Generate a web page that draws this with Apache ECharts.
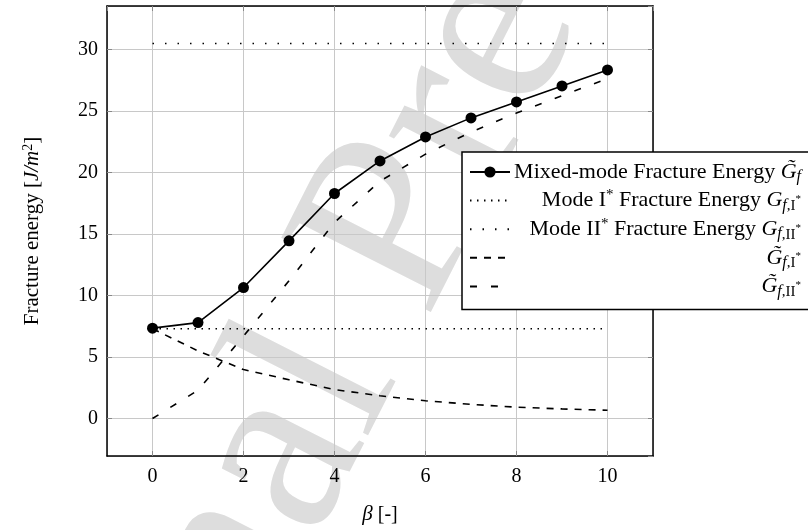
<!DOCTYPE html>
<html><head><meta charset="utf-8">
<script src="https://cdn.jsdelivr.net/npm/echarts@6/dist/echarts.min.js"></script>
<style>html,body{margin:0;padding:0;background:#fff}#c{width:808px;height:530px}</style>
</head><body><div id="c"></div>
<script>
// ---- data ----
const beta    = [0, 1, 2, 3, 4, 5, 6, 7, 8, 9, 10];
const mixed   = [7.35, 7.8, 10.65, 14.45, 18.3, 20.95, 22.9, 24.45, 25.75, 27.05, 28.35];
const modeI   = [7.3, 7.3, 7.3, 7.3, 7.3, 7.3, 7.3, 7.3, 7.3, 7.3, 7.3];
const modeII  = [30.5, 30.5, 30.5, 30.5, 30.5, 30.5, 30.5, 30.5, 30.5, 30.5, 30.5];
const tildeI  = [7.3, 5.5, 3.98, 3.15, 2.35, 1.85, 1.44, 1.15, 0.92, 0.78, 0.67];
const tildeII = [0, 2.3, 6.7, 11.2, 15.95, 19.3, 21.5, 23.3, 24.85, 26.25, 27.65];
const xRange  = [-1, 11];
const yRange  = [-3.05, 33.55];
const seriesIds = ['mixed', 'modeI', 'modeII', 'tildeI', 'tildeII'];
const legendLabels = {
  mixed:   '{t|Mixed-mode Fracture Energy }{m|G\u0303}{sf|f}',
  modeI:   '{t|Mode I}{sup|*}{t| Fracture Energy }{m|G}{sf|f}{sr|,I}{ss|*}',
  modeII:  '{t|Mode II}{sup|*}{t| Fracture Energy }{m|G}{sf|f}{sr|,II}{ss|*}',
  tildeI:  '{m|G\u0303}{sf|f}{sr|,I}{ss|*}',
  tildeII: '{m|G\u0303}{sf|f}{sr|,II}{ss|*}'
};
const yAxisTitle = 'Fracture energy [{i|J/m}{sup|2}]';
const xAxisTitle = '{i|\u03b2} [-]';
const watermark = 'Journal Pre-proof';

const FONT = '"Liberation Serif", "DejaVu Serif", serif';
const pair = arr => beta.map((b, i) => [b, arr[i]]);

const chart = echarts.init(document.getElementById('c'), null, {renderer: 'canvas'});
const common = {type: 'line', xAxisIndex: 0, yAxisIndex: 0, animation: false, silent: true};
const richBase = {
  t:   {fontFamily: FONT, fontSize: 22, lineHeight: 26, align: 'right', color: '#000'},
  m:   {fontFamily: FONT, fontSize: 22, fontStyle: 'italic', lineHeight: 26, align: 'right', color: '#000'},
  sup: {fontFamily: FONT, fontSize: 15, lineHeight: 20, verticalAlign: 'top', align: 'right', color: '#000'},
  sf:  {fontFamily: FONT, fontSize: 16, fontStyle: 'italic', lineHeight: 14, verticalAlign: 'bottom', align: 'right', color: '#000'},
  sr:  {fontFamily: FONT, fontSize: 15, lineHeight: 14, verticalAlign: 'bottom', align: 'right', color: '#000'},
  ss:  {fontFamily: FONT, fontSize: 11, lineHeight: 20, verticalAlign: 'top', align: 'right', color: '#000', padding: [6, 0, 0, 0]}
};
const hiddenSym = {opacity: 0};

const axisLineStyle = {show: true, onZero: false, lineStyle: {color: '#000', width: 1.5}};
const tickStyle = {show: true, inside: true, length: 5, lineStyle: {color: '#888'}};

const option = {
  backgroundColor: '#fff',
  animation: false,
  grid: {left: 107, right: 155, top: 6, bottom: 72, containLabel: false},
  graphic: [{
    type: 'text', z: -1, silent: true,
    x: 404, y: 217, rotation: 1.1,
    style: {text: watermark, font: '255px ' + FONT, fill: '#dddddd', align: 'center', verticalAlign: 'middle'}
  }],
  xAxis: [{
    type: 'value', min: xRange[0], max: xRange[1], splitNumber: 6, position: 'bottom',
    axisLine: axisLineStyle, axisTick: tickStyle,
    axisLabel: {showMinLabel: false, showMaxLabel: false, margin: 11, fontFamily: FONT, fontSize: 20, color: '#000'},
    splitLine: {show: true, lineStyle: {color: '#c8c8c8', width: 1}},
    name: xAxisTitle, nameLocation: 'middle', nameGap: 48,
    nameTextStyle: {fontFamily: FONT, fontSize: 20, color: '#000', rich: {i: {fontFamily: FONT, fontSize: 21, fontStyle: 'italic'}}}
  }, {
    type: 'value', min: xRange[0], max: xRange[1], splitNumber: 6, position: 'top',
    axisLine: axisLineStyle, axisTick: tickStyle,
    axisLabel: {show: false}, splitLine: {show: false}
  }],
  yAxis: [{
    type: 'value', min: yRange[0], max: yRange[1], splitNumber: 7, position: 'left',
    axisLine: axisLineStyle, axisTick: tickStyle,
    axisLabel: {showMinLabel: false, showMaxLabel: false, margin: 9, fontFamily: FONT, fontSize: 20, color: '#000'},
    splitLine: {show: true, lineStyle: {color: '#c8c8c8', width: 1}},
    name: yAxisTitle, nameLocation: 'middle', nameGap: 64,
    nameTextStyle: {fontFamily: FONT, fontSize: 21, color: '#000', rich: {
      i: {fontFamily: FONT, fontSize: 21, fontStyle: 'italic'},
      sup: {fontFamily: FONT, fontSize: 14, verticalAlign: 'top', lineHeight: 22}
    }}
  }, {
    type: 'value', min: yRange[0], max: yRange[1], splitNumber: 7, position: 'right',
    axisLine: axisLineStyle, axisTick: tickStyle,
    axisLabel: {show: false}, splitLine: {show: false}
  }],
  legend: {
    show: true, orient: 'vertical', left: 462, top: 152,
    data: [
      {name: 'mixed'},
      {name: 'modeI', itemStyle: hiddenSym},
      {name: 'modeII', itemStyle: hiddenSym},
      {name: 'tildeI', itemStyle: hiddenSym},
      {name: 'tildeII', itemStyle: hiddenSym}
    ],
    itemWidth: 40, itemHeight: 14, itemGap: 2.6,
    padding: [9, 30, 10, 7],
    borderColor: '#000', borderWidth: 1.5, backgroundColor: '#fff',
    selectedMode: false,
    textStyle: {fontFamily: FONT, fontSize: 22, color: '#000', width: 286, rich: richBase},
    formatter: id => legendLabels[id]
  },
  series: [
    Object.assign({}, common, {name: 'mixed', data: pair(mixed), symbol: 'circle', symbolSize: 11, showSymbol: true,
      itemStyle: {color: '#000'}, lineStyle: {color: '#000', width: 1.6, type: 'solid'}, z: 5}),
    Object.assign({}, common, {name: 'modeI', data: pair(modeI), symbol: 'none',
      itemStyle: {color: '#000'}, lineStyle: {color: '#000', width: 1.6, type: [1.5, 5.5]}, z: 3}),
    Object.assign({}, common, {name: 'modeII', data: pair(modeII), symbol: 'none',
      itemStyle: {color: '#000'}, lineStyle: {color: '#000', width: 1.6, type: [1.5, 11]}, z: 3}),
    Object.assign({}, common, {name: 'tildeI', data: pair(tildeI), symbol: 'none',
      itemStyle: {color: '#000'}, lineStyle: {color: '#000', width: 1.6, type: [7, 7]}, z: 3}),
    Object.assign({}, common, {name: 'tildeII', data: pair(tildeII), symbol: 'none',
      itemStyle: {color: '#000'}, lineStyle: {color: '#000', width: 1.6, type: [7, 14]}, z: 3})
  ]
};
chart.setOption(option);
</script>
</body></html>
